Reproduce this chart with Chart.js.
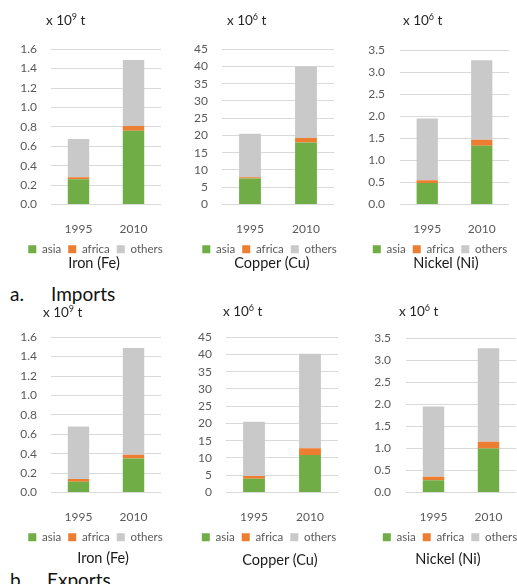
<!DOCTYPE html>
<html>
<head>
<meta charset="utf-8">
<script src="https://cdn.jsdelivr.net/npm/chart.js@4/dist/chart.umd.min.js"></script>
<style>
    body { margin: 0; width: 517px; height: 584px; overflow: hidden; background: #fff; position: relative; font-family: Lato, sans-serif; }
    canvas { position: absolute; }
    .txt { position: absolute; white-space: nowrap; line-height: 1; }
    .unit { font-size: 13.5px; color: #262626; transform: translateY(-50%); }
    .unit sup { font-size: 9px; vertical-align: 5px; line-height: 0; }
    .name { font-size: 14.5px; color: #1a1a1a; transform: translate(-50%, -50%); }
    .part { font-size: 19px; color: #111; transform: translateY(-50%); }
</style>
</head>
<body>

<div class="txt part" style="left:10px;top:293px">a.</div>
<div class="txt part" style="left:51px;top:293px">Imports</div>
<div class="txt part" style="left:10px;top:579px">b.</div>
<div class="txt part" style="left:47px;top:579px">Exports</div>

<script>
const years = ['1995', '2010']
const regions = ['asia', 'africa', 'others']
const COLORS = ['#70AD47', '#ED7D31', '#C9C9C9']

// tick labels (x 10^9 t for iron, x 10^6 t for copper and nickel)
const ironTicks = [0.0, 0.2, 0.4, 0.6, 0.8, 1.0, 1.2, 1.4, 1.6]
const copperTicks = [0, 5, 10, 15, 20, 25, 30, 35, 40, 45]
const nickelTicks = [0.0, 0.5, 1.0, 1.5, 2.0, 2.5, 3.0, 3.5]

// a. imports
const ironImportAsia = [0.26, 0.76]
const ironImportAfrica = [0.02, 0.05]
const ironImportOthers = [0.395, 0.68]

const copperImportAsia = [7.5, 18.0]
const copperImportAfrica = [0.4, 1.3]
const copperImportOthers = [12.6, 20.7]

const nickelImportAsia = [0.49, 1.33]
const nickelImportAfrica = [0.06, 0.14]
const nickelImportOthers = [1.40, 1.80]

// b. exports
const ironExportAsia = [0.11, 0.35]
const ironExportAfrica = [0.03, 0.04]
const ironExportOthers = [0.54, 1.10]

const copperExportAsia = [4.0, 10.9]
const copperExportAfrica = [0.8, 1.9]
const copperExportOthers = [15.7, 27.4]

const nickelExportAsia = [0.28, 1.0]
const nickelExportAfrica = [0.08, 0.15]
const nickelExportOthers = [1.59, 2.12]

const TICK_FONT = { family: 'Lato, sans-serif', size: 12 }

function addText(cls, html, x, y) {
    const div = document.createElement('div')
    div.className = 'txt ' + cls
    div.innerHTML = html
    div.style.left = x + 'px'
    div.style.top = y + 'px'
    document.body.appendChild(div)
}

// one small panel: canvas box + chart area widths, then the stacked bars
function drawPanel(box, series, ticks, decimals) {
    const canvas = document.createElement('canvas')
    canvas.width = box.w
    canvas.height = 237
    canvas.style.left = box.x + 'px'
    canvas.style.top = box.y + 'px'
    document.body.appendChild(canvas)

    const datasets = series.map((values, idx) => ({
        label: regions[idx],
        data: values,
        backgroundColor: COLORS[idx],
        categoryPercentage: 1,
        barPercentage: 0.39
    }))

    new Chart(canvas, {
        type: 'bar',
        data: { labels: years, datasets: datasets },
        options: {
            responsive: false,
            animation: false,
            devicePixelRatio: 1,
            layout: { padding: { left: 0, right: 0, top: 10, bottom: 0 } },
            plugins: {
                tooltip: { enabled: false },
                legend: {
                    position: 'bottom',
                    labels: {
                        boxWidth: 8,
                        boxHeight: 8,
                        padding: 7,
                        color: '#595959',
                        font: { family: 'Lato, sans-serif', size: 11.5 }
                    }
                }
            },
            scales: {
                x: {
                    stacked: true,
                    grid: { display: false },
                    border: { display: false },
                    ticks: { color: '#595959', font: TICK_FONT, padding: 9 },
                    afterFit: (s) => { s.height = 32 }
                },
                y: {
                    stacked: true,
                    min: ticks[0],
                    max: ticks[ticks.length - 1],
                    afterBuildTicks: (s) => { s.ticks = ticks.map(v => ({ value: v })) },
                    grid: { color: '#D9D9D9', drawTicks: false },
                    border: { display: false },
                    ticks: {
                        autoSkip: false,
                        color: '#595959',
                        font: TICK_FONT,
                        padding: box.pad,
                        callback: (v) => Number(v).toFixed(decimals)
                    },
                    afterFit: (s) => { s.width = box.yW }
                },
                // empty right axis, only used to hold the plot area narrower than the legend
                spare: {
                    position: 'right',
                    display: true,
                    grid: { display: false },
                    border: { display: false },
                    ticks: { display: false },
                    afterFit: (s) => { s.width = box.rW }
                }
            }
        }
    })
}

// top row: imports
drawPanel({ x: 0, y: 28, w: 191, yW: 51, rW: 30, pad: 14 },
    [ironImportAsia, ironImportAfrica, ironImportOthers], ironTicks, 1)
drawPanel({ x: 180, y: 28, w: 179, yW: 42, rW: 25, pad: 14 },
    [copperImportAsia, copperImportAfrica, copperImportOthers], copperTicks, 0)
drawPanel({ x: 360, y: 28, w: 160, yW: 40, rW: 11, pad: 15 },
    [nickelImportAsia, nickelImportAfrica, nickelImportOthers], nickelTicks, 1)

// bottom row: exports
drawPanel({ x: 0, y: 316, w: 191, yW: 51, rW: 30, pad: 14 },
    [ironExportAsia, ironExportAfrica, ironExportOthers], ironTicks, 1)
drawPanel({ x: 180, y: 316, w: 178, yW: 46, rW: 20, pad: 14 },
    [copperExportAsia, copperExportAfrica, copperExportOthers], copperTicks, 0)
drawPanel({ x: 370, y: 316, w: 160, yW: 36, rW: 14, pad: 15 },
    [nickelExportAsia, nickelExportAfrica, nickelExportOthers], nickelTicks, 1)

// units above each plot and the metal name under each legend
addText('unit', 'x 10<sup>9</sup> t', 46, 21)
addText('unit', 'x 10<sup>6</sup> t', 227, 21)
addText('unit', 'x 10<sup>6</sup> t', 403, 21)
addText('unit', 'x 10<sup>9</sup> t', 43, 313)
addText('unit', 'x 10<sup>6</sup> t', 223, 312)
addText('unit', 'x 10<sup>6</sup> t', 399, 312)

addText('name', 'Iron (Fe)', 94, 263)
addText('name', 'Copper (Cu)', 272, 263)
addText('name', 'Nickel (Ni)', 446, 263)
addText('name', 'Iron (Fe)', 103, 558)
addText('name', 'Copper (Cu)', 280, 560)
addText('name', 'Nickel (Ni)', 448, 559)
</script>
</body>
</html>
